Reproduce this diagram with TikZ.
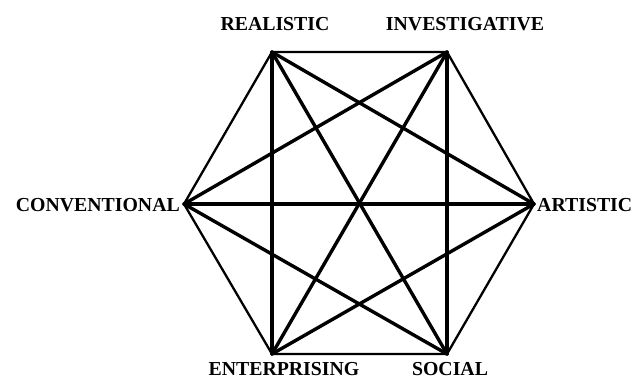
\documentclass[tikz,border=0pt]{standalone}
\usepackage{fontspec}
\setmainfont{Liberation Serif}
\usepackage{tikz}
\usetikzlibrary{positioning}

\begin{document}
\begin{tikzpicture}[
  x=1pt, y=-1pt,
  side/.style={draw=black, line width=2.3pt, line cap=round},
  diag/.style={draw=black, line width=3.4pt, line cap=round},
  lbl/.style={font=\fontsize{19.8}{20}\selectfont\bfseries, inner sep=0pt},
]
\useasboundingbox (0,0) rectangle (632,381);

%% Hexagon corners
\coordinate (R) at (272,52);
\coordinate (I) at (447,52);
\coordinate (A) at (534,204);
\coordinate (S) at (447,354);
\coordinate (E) at (272,354);
\coordinate (C) at (184,204);

%% Type labels
\node[lbl] (realistic)     at (275,24)  {REALISTIC};
\node[lbl] (investigative) at (465,24)  {INVESTIGATIVE};
\node[lbl, anchor=west]  (artistic)     at (537,205) {ARTISTIC};
\node[lbl, anchor=east]  (conventional) at (180,205) {CONVENTIONAL};
\node[lbl] (enterprising)  at (284,369) {ENTERPRISING};
\node[lbl] (social)        at (450,369) {SOCIAL};

%% Outer hexagon
\draw[side] (R) -- (I) -- (A) -- (S) -- (E) -- (C) -- cycle;

%% All diagonals
\foreach \a/\b in {R/A, R/S, R/E, I/S, I/E, I/C, A/E, A/C, S/C}
  \draw[diag] (\a) -- (\b);

\end{tikzpicture}
\end{document}
